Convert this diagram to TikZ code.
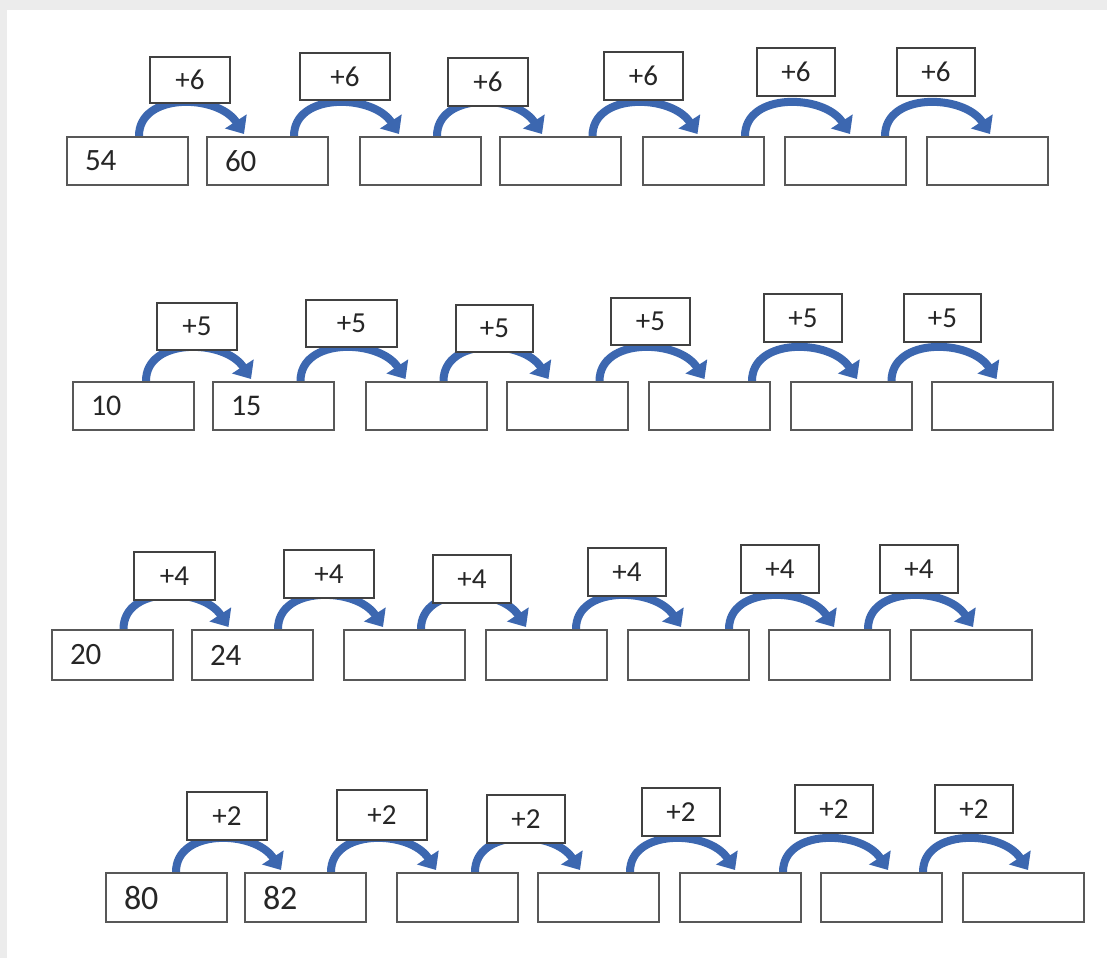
\documentclass[tikz,border=0pt]{standalone}
\usepackage{fontspec}
\setmainfont{Carlito}
\usetikzlibrary{arrows.meta,calc}
\pgfdeclarelayer{backdrop}
\pgfdeclarelayer{bg}
\pgfsetlayers{backdrop,bg,main}
\definecolor{jumpblue}{RGB}{60,103,176}
\definecolor{boxgray}{RGB}{88,88,88}
\definecolor{labgray}{RGB}{65,65,65}
\definecolor{txtgray}{RGB}{38,38,38}
\definecolor{framegray}{RGB}{236,236,236}
\tikzset{
  numbox/.style={draw=boxgray, line width=2pt, fill=white, inner sep=0pt,
    minimum width=121, text width=85pt, align=left, text=txtgray},
  labbox/.style={draw=labgray, line width=2pt, fill=white, inner sep=0pt,
    text=txtgray, font=\fontsize{29}{29}\selectfont},
  jump/.style={draw=jumpblue, line width=8pt,
    -{Triangle[width=25pt,length=15pt]}},
}
\newcommand\makerow[7]{%
  \foreach \x/\t [count=\i] in {#4}
    \node[numbox, minimum height={#3-#2}, font=\fontsize{#7}{#7}\selectfont]
      (b#1\i) at ({\x+60.5},{(#2+#3)/2}) {\t};
  \foreach \xa/\ya/\xb/\yb [count=\i, evaluate=\i as \j using int(\i+1)] in {#5} {
    \node[labbox, minimum width={\xb-\xa}, minimum height={\yb-\ya}]
      (L#1\i) at ({(\xa+\xb)/2},{(\ya+\yb)/2}) {#6};
    \begin{pgfonlayer}{bg}
      \draw[jump] ($(L#1\i.south |- b#1\i.north)+(-51,0)$)
        .. controls +(0,-44) and +(-26,-40) ..
        ($(L#1\i.south |- b#1\j.north)+(54,-2)$);
    \end{pgfonlayer}
  }
}
\begin{document}
\begin{tikzpicture}[x=1pt,y=-1pt]
\begin{pgfonlayer}{backdrop}
  \fill[white] (0,0) rectangle (1107,958);
  \fill[framegray] (0,0) rectangle (1107,10);
  \fill[framegray] (0,0) rectangle (7,958);
\end{pgfonlayer}
\useasboundingbox (0,0) rectangle (1107,958);

\makerow{1}{137}{185}
  {67/54,207/60,360/{},500/{},643/{},785/{},927/{}}
  {150/57/230/103,300/53/390/100,448/58/528/106,604/52/683/100,757/48/835/96,897/48/975/96}
  {+6}{31}

\makerow{2}{382}{430}
  {73/10,213/15,366/{},507/{},649/{},791/{},932/{}}
  {157/303/237/350,306/300/397/347,456/305/533/352,611/298/690/345,764/294/842/342,904/294/981/342}
  {+5}{30}

\makerow{3}{630}{680}
  {52/20,192/24,344/{},486/{},628/{},769/{},911/{}}
  {134/552/215/600,284/550/374/598,433/555/511/603,588/548/666/596,741/545/819/593,880/545/958/593}
  {+4}{31}

\makerow{4}{873}{922}
  {106/80,245/82,397/{},538/{},680/{},821/{},963/{}}
  {187/792/267/840,337/790/427/840,487/795/565/843,642/788/720/836,795/785/873/833,935/785/1013/833}
  {+2}{34}
\end{tikzpicture}
\end{document}
